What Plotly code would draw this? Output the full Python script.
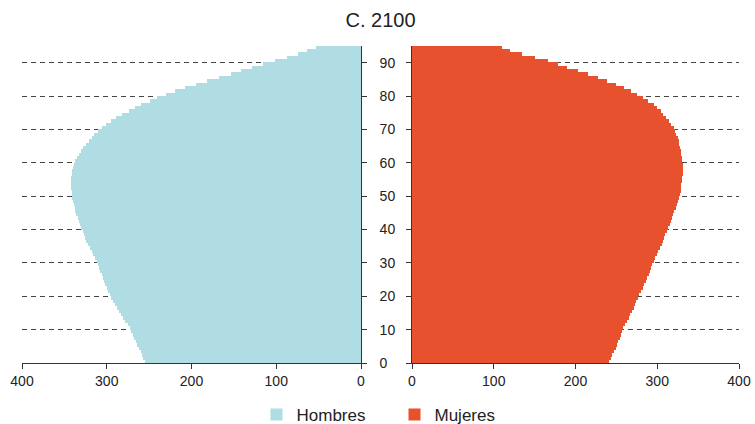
import plotly.graph_objects as go

ages = list(range(95))
tick_vals = [0, 10, 20, 30, 40, 50, 60, 70, 80, 90]
x_ticks = [0, 100, 200, 300, 400]

hombres = [255, 257, 258.5, 260, 262, 264, 266, 268, 269.5, 271,
           273, 275.5, 278, 280.5, 283, 285.5, 288, 290.5, 292.5, 294.5,
           296.5, 298.5, 300, 301.5, 303, 304.5, 306, 307.5, 309, 310.5,
           312, 314, 316, 318, 320, 322, 324, 325.5, 327, 328.5,
           330, 331.5, 333, 334.5, 336, 337, 338, 339, 340, 340.5,
           341, 341.5, 342, 342, 342, 341.7, 341.3, 340.9, 340.1, 338.9,
           337.3, 335.4, 333, 330.2, 327.5, 324.3, 321.2, 317.6, 314.5, 309.8,
           305.4, 300.7, 294.8, 288.9, 282.2, 274.3, 267.2, 259.3, 249.5, 240.8,
           230.5, 219.1, 207.3, 194.3, 181.7, 167.9, 153.7, 141.1, 128.1, 115.5,
           101.7, 87.9, 74.9, 64.2, 53.6]

mujeres = [241, 243, 245, 247, 249, 251, 252.5, 254, 255.5, 256.5,
           258, 260.5, 263, 265, 267, 269, 271, 273, 274.5, 276,
           277.5, 280, 282, 284, 286, 288, 289.5, 291, 292.5, 294,
           295.5, 297.5, 299.5, 301.5, 303.5, 305.5, 307, 308.5, 310, 311.5,
           313, 315, 316.5, 318, 319.5, 321, 322.5, 324, 325.5, 326.5,
           327.5, 328.5, 329, 329.5, 330, 330.5, 331, 331, 331, 331,
           330.5, 330, 329.5, 329, 328, 327, 326, 325, 323.5, 322,
           320, 317, 314, 310.5, 307.5, 304, 300, 296, 289, 283,
           275, 268, 259, 249.5, 238.5, 227.5, 215, 203, 190, 179,
           166, 150, 135, 120, 110]

title_text = "C. 2100"
name_h = "Hombres"
name_m = "Mujeres"

col_h = "#b0dde4"
col_m = "#e8512e"
FONT = "Liberation Sans, Arial, sans-serif"
TXT = "#222222"
LINE = "#333333"

y_mid = [a + 0.5 for a in ages]

fig = go.Figure()
fig.add_trace(go.Bar(y=y_mid, x=hombres, orientation="h", name=name_h,
                     xaxis="x", yaxis="y", width=1.12,
                     marker=dict(color=col_h, line=dict(width=0)),
                     hoverinfo="skip"))
fig.add_trace(go.Bar(y=y_mid, x=mujeres, orientation="h", name=name_m,
                     xaxis="x2", yaxis="y2", width=1.12,
                     marker=dict(color=col_m, line=dict(width=0)),
                     hoverinfo="skip"))

W, H = 755, 424
ml, mr, mt, mb = 22, 16, 46, 61
pw = W - ml - mr
left_end = (361 - ml) / pw
right_start = (412 - ml) / pw

common_x = dict(tickvals=x_ticks, ticks="outside", ticklen=5, tickcolor=LINE,
                showline=True, linecolor=LINE, linewidth=1, showgrid=False,
                zeroline=False, tickfont=dict(size=14, color=TXT, family=FONT),
                fixedrange=True, automargin=False)
common_y = dict(range=[0, 95], tickvals=tick_vals, ticks="outside", ticklen=5,
                tickcolor=LINE, showline=True, linecolor=LINE, linewidth=1,
                showgrid=True, gridcolor="#444444", gridwidth=1, griddash="5px,4px",
                zeroline=False, fixedrange=True, automargin=False)

fig.update_layout(
    width=W, height=H,
    margin=dict(l=ml, r=mr, t=mt, b=mb, autoexpand=False),
    paper_bgcolor="white", plot_bgcolor="white",
    font=dict(family=FONT, color=TXT),
    barmode="overlay", bargap=0,
    title=dict(text=title_text, x=0.5, xanchor="center", xref="paper",
               y=1 - 20 / H, yref="container", yanchor="middle",
               font=dict(size=20, color=TXT, family=FONT)),
    xaxis=dict(domain=[0, left_end], range=[400, 0], anchor="y", **common_x),
    xaxis2=dict(domain=[right_start, 1], range=[0, 400], anchor="y2", **common_x),
    yaxis=dict(domain=[0, 1], anchor="x", side="right", showticklabels=False, **common_y),
    yaxis2=dict(domain=[0, 1], anchor="x2", side="left", showticklabels=True,
                ticktext=[str(v) + ("\u00a0\u00a0" if v < 10 else "") for v in tick_vals],
                ticklabelstandoff=8,
                tickfont=dict(size=14, color=TXT, family=FONT), **common_y),
    legend=dict(orientation="h", x=0.5 + 14 / pw, xanchor="center", xref="paper",
                y=1 - 415 / H, yref="container", yanchor="middle",
                font=dict(size=17, color=TXT, family=FONT),
                entrywidth=93, itemclick=False, itemdoubleclick=False),
    showlegend=True,
)

fig.write_html("out.html", config={"displayModeBar": False},
               post_script="document.body.style.margin='0px';document.body.style.overflow='hidden';")
